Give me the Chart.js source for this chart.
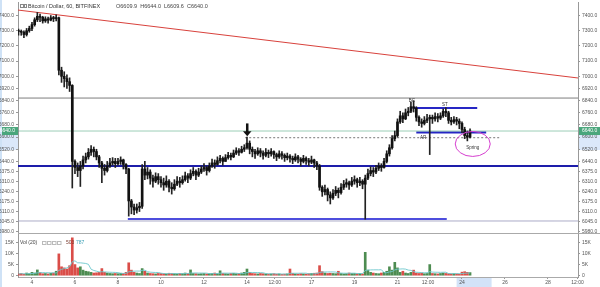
<!DOCTYPE html>
<html>
<head>
<meta charset="utf-8">
<script src="https://cdn.jsdelivr.net/npm/chart.js@4.4.0/dist/chart.umd.min.js"></script>
<style>
    body { margin: 0; background: #fff; }
    canvas { display: block; }
</style>
</head>
<body>
<canvas id="priceChart" width="600" height="234"></canvas>
<canvas id="volumeChart" width="600" height="53"></canvas>
<script>
// 3h candles, time in hours counted from 4 Sep 00:00 (first candle 3 Sep 09:00)
const firstHour = -15;
const stepHours = 3;
const firstOpen = 7300;

const closes = [
    7295, 7290, 7275, 7300, 7315,
    7340, 7372, 7395, 7388, 7365, 7378, 7370, 7385,
    7380, 7385, 7040, 7000, 6985, 6965, 6940, 6440,
    6400, 6380, 6410, 6450, 6470, 6500, 6520, 6505,
    6470, 6430, 6395, 6380, 6410, 6430, 6440, 6425,
    6440, 6450, 6420, 6390, 6180, 6140, 6120, 6135,
    6145, 6390, 6350, 6370, 6330, 6310, 6340, 6320,
    6300, 6285, 6310, 6270, 6260, 6290, 6310, 6300,
    6320, 6345, 6330, 6360, 6375, 6350, 6370, 6390,
    6400, 6380, 6410, 6430, 6420, 6445, 6460, 6440,
    6465, 6480, 6470, 6495, 6510, 6500, 6520, 6530,
    6560, 6520, 6505, 6490, 6510, 6495, 6480, 6500,
    6490, 6505, 6485, 6470, 6490, 6480, 6465, 6475,
    6460, 6450, 6470, 6455, 6440, 6460, 6445, 6435,
    6450, 6430, 6410, 6270, 6240, 6255, 6220, 6200,
    6230, 6250, 6235, 6270, 6290, 6300, 6285, 6310,
    6320, 6300, 6310, 6290, 6330, 6360, 6380, 6370,
    6395, 6410, 6400, 6440, 6490, 6530, 6590, 6610,
    6700, 6740, 6720, 6760, 6770, 6800, 6790, 6730,
    6700, 6690, 6710, 6720, 6730, 6720, 6735, 6725,
    6740, 6770, 6760, 6710, 6700, 6715, 6705, 6690,
    6650, 6610, 6600, 6640
];
const highs = [
    7310, 7305, 7300, 7315, 7330,
    7355, 7385, 7420, 7410, 7395, 7392, 7390, 7400,
    7395, 7405, 7390, 7060, 7030, 7010, 6990, 6945,
    6450, 6430, 6440, 6475, 6495, 6525, 6545, 6535,
    6520, 6480, 6440, 6420, 6440, 6460, 6465, 6460,
    6460, 6470, 6455, 6425, 6395, 6190, 6160, 6160,
    6170, 6420, 6440, 6400, 6385, 6350, 6365, 6360,
    6340, 6330, 6345, 6320, 6300, 6320, 6340, 6335,
    6345, 6370, 6360, 6385, 6400, 6385, 6395, 6410,
    6425, 6410, 6430, 6455, 6450, 6470, 6480, 6470,
    6485, 6500, 6495, 6515, 6530, 6525, 6540, 6550,
    6600, 6575, 6535, 6520, 6530, 6525, 6510, 6525,
    6515, 6525, 6510, 6495, 6510, 6505, 6490, 6495,
    6485, 6475, 6490, 6480, 6465, 6480, 6470, 6460,
    6475, 6455, 6440, 6420, 6280, 6285, 6265, 6240,
    6255, 6275, 6265, 6295, 6315, 6325, 6310, 6335,
    6345, 6330, 6335, 6320, 6350, 6390, 6405, 6400,
    6415, 6430, 6425, 6460, 6510, 6550, 6610, 6640,
    6720, 6770, 6760, 6785, 6795, 6830, 6840, 6800,
    6740, 6720, 6735, 6750, 6745, 6745, 6760, 6755,
    6760, 6785, 6795, 6770, 6730, 6735, 6730, 6720,
    6700, 6665, 6640, 6655
];
const lows = [
    7270, 7270, 7255, 7265, 7290,
    7300, 7330, 7360, 7360, 7350, 7355, 7350, 7365,
    7360, 7365, 7010, 6960, 6930, 6920, 6900, 6265,
    6360, 6340, 6275, 6390, 6430, 6455, 6480, 6470,
    6450, 6400, 6300, 6350, 6370, 6400, 6415, 6400,
    6415, 6420, 6390, 6360, 6080, 6095, 6090, 6100,
    6110, 6130, 6320, 6325, 6290, 6270, 6300, 6290,
    6270, 6250, 6270, 6240, 6225, 6250, 6280, 6270,
    6290, 6310, 6300, 6320, 6345, 6320, 6340, 6360,
    6375, 6350, 6370, 6400, 6395, 6415, 6430, 6415,
    6440, 6455, 6450, 6465, 6485, 6480, 6495, 6505,
    6520, 6490, 6470, 6460, 6480, 6470, 6455, 6470,
    6465, 6475, 6460, 6445, 6460, 6455, 6440, 6450,
    6435, 6425, 6440, 6430, 6410, 6430, 6420, 6410,
    6425, 6400, 6385, 6250, 6210, 6220, 6180, 6160,
    6190, 6215, 6200, 6225, 6255, 6270, 6255, 6275,
    6290, 6270, 6280, 6260, 6060, 6320, 6345, 6340,
    6360, 6380, 6375, 6395, 6430, 6475, 6520, 6575,
    6600, 6690, 6695, 6715, 6740, 6760, 6765, 6705,
    6675, 6665, 6680, 6695, 6485, 6690, 6705, 6700,
    6715, 6730, 6735, 6690, 6680, 6690, 6680, 6655,
    6630, 6590, 6575, 6595
];
// volume in thousands
const volumes = [
    0.8, 1.0, 0.7, 1.2, 0.9,
    1.5, 1.2, 2.6, 1.4, 0.9, 1.0, 0.8, 1.1,
    1.2, 2.0, 9.8, 4.0, 3.5, 3.0, 4.5, 17.0,
    5.0, 3.5, 4.0, 2.5, 2.0, 1.8, 1.5, 1.2,
    1.3, 1.5, 3.2, 1.5, 1.2, 1.0, 0.9, 1.0,
    0.9, 1.1, 1.0, 1.5, 5.8, 2.5, 1.5, 1.2,
    1.0, 3.2, 2.0, 1.2, 1.0, 0.9, 0.8, 1.0,
    1.0, 0.9, 0.8, 1.1, 1.0, 0.9, 0.8, 1.0,
    0.9, 1.2, 1.0, 2.6, 1.0, 0.9, 0.8, 0.9,
    1.0, 0.8, 0.9, 1.0, 1.2, 0.9, 2.2, 1.0,
    0.9, 0.8, 1.0, 1.1, 0.9, 1.0, 1.2, 1.5,
    3.0, 1.5, 1.0, 0.9, 0.8, 1.0, 0.9, 0.8,
    0.7, 0.8, 0.9, 0.7, 0.8, 0.6, 0.7, 0.8,
    3.0, 1.0, 0.8, 0.7, 0.9, 0.8, 0.7, 0.9,
    1.0, 1.1, 1.2, 4.5, 1.8, 1.2, 1.0, 1.1,
    1.0, 0.9, 2.0, 1.0, 0.8, 0.9, 1.2, 1.0,
    1.0, 0.9, 1.0, 0.8, 10.5, 2.5, 1.5, 1.2,
    1.0, 0.9, 1.2, 1.5, 2.0, 4.0, 2.5, 6.0,
    3.5, 1.5, 2.0, 1.2, 1.0, 1.5, 2.5, 1.2,
    1.0, 1.2, 0.9, 1.0, 5.0, 1.0, 0.9, 0.8,
    1.0, 1.2, 1.0, 0.9, 0.8, 0.9, 0.8, 0.7,
    1.6, 1.8, 1.5, 1.4
];

const priceTicks = [7400, 7300, 7200, 7100, 7000, 6920, 6840, 6760, 6680, 6600, 6520, 6440, 6375, 6310, 6240, 6175, 6110, 6045, 5980];
const volumeTicks = [0, 5, 10, 15];
const timeTicks = [0, 48, 96, 144, 192, 240, 271, 312, 360, 408, 442, 480, 528, 576, 609];
const timeLabels = ['4', '6', '8', '10', '12', '14', '12:00', '17', '19', '21', '12:00', '24', '26', '28', '12:00'];

// drawn lines
const trendLine = [{ x: -15.6, y: 7436 }, { x: 609.5, y: 6989 }];
const resistance = 6857;
const support = 6410;
const rangeBottom = 6048;
const currentPrice = 6640;
const springBase = [{ x: 107, y: 6061 }, { x: 463, y: 6061 }];
const bcLine = [{ x: 425, y: 6791 }, { x: 497, y: 6791 }];
const arLine = [{ x: 429, y: 6630 }, { x: 507, y: 6630 }];
const dashLine = [{ x: 238, y: 6596 }, { x: 522, y: 6596 }];

const xMin = -15.6;
const xMax = 609.5;
const priceMin = 5969;
const priceMax = 7489;
const volMin = -0.58;
const volMax = 18.72;

const axisFont = { family: 'Liberation Sans, Arial, sans-serif', size: 5 };
const textColor = '#555';

const hours = closes.map((c, i) => firstHour + i * stepHours);
const opens = closes.map((c, i) => i === 0 ? firstOpen : closes[i - 1]);
const wicks = hours.map((h, i) => ({
    x: h,
    y: [Math.min(lows[i], opens[i], closes[i]), Math.max(highs[i], opens[i], closes[i])]
}));
const bodies = hours.map((h, i) => ({ x: h, y: [opens[i], closes[i]] }));
const volumeBars = hours.map((h, i) => ({ x: h, y: volumes[i] }));
const volumeColors = closes.map((c, i) => c >= opens[i] ? 'rgba(58,128,62,0.9)' : 'rgba(214,58,52,0.9)');
// Vol (20) average, 20 hourly bars ~ 7 bars of 3h
const volumeAvg = hours.map((h, i) => {
    const part = volumes.slice(Math.max(0, i - 6), i + 1);
    return { x: h, y: part.reduce((a, b) => a + b, 0) / part.length };
});

function segment(points, color, width, dash) {
    return {
        type: 'line',
        data: points,
        borderColor: color,
        borderWidth: width,
        borderDash: dash || [],
        pointRadius: 0,
        fill: false,
        yAxisID: 'y',
        order: 3
    };
}
function level(value, color, width) {
    return segment([{ x: xMin, y: value }, { x: xMax, y: value }], color, width);
}

function fixWidth(w) {
    return scale => {
        scale.width = w;
        scale.paddingTop = 0;
        scale.paddingBottom = 0;
    };
}

function yAxis(position, width, min, max, values, format) {
    return {
        type: 'linear',
        position: position,
        min: min,
        max: max,
        afterBuildTicks: s => { s.ticks = values.map(v => ({ value: v })); },
        afterFit: fixWidth(width),
        ticks: { font: axisFont, color: textColor, padding: 2, autoSkip: false, callback: format },
        grid: { drawOnChartArea: false, tickLength: 2, color: '#999' },
        border: { color: '#999' }
    };
}

const priceOverlay = {
    id: 'priceOverlay',
    beforeDraw(chart) {
        const { ctx, chartArea, scales: { y } } = chart;
        ctx.save();
        ctx.fillStyle = '#fff';
        ctx.fillRect(0, 0, chart.width, chart.height);
        ctx.fillStyle = '#cfe2f6';
        ctx.fillRect(0, 0, 2, chart.height);
        const top = y.getPixelForValue(currentPrice);
        const bottom = y.getPixelForValue(6515);
        ctx.fillStyle = '#dbe8fa';
        ctx.fillRect(chartArea.right + 1, top, chart.width - chartArea.right, bottom - top);
        ctx.fillRect(2, top, chartArea.left - 2, bottom - top);
        ctx.restore();
    },
    afterDraw(chart) {
        const { ctx, chartArea, scales: { x, y } } = chart;
        ctx.save();

        // pane divider
        ctx.strokeStyle = '#aaa';
        ctx.lineWidth = 1;
        ctx.beginPath();
        ctx.moveTo(chartArea.left, chartArea.bottom + 0.5);
        ctx.lineTo(chart.width, chartArea.bottom + 0.5);
        ctx.stroke();

        // title
        ctx.strokeStyle = '#888';
        ctx.strokeRect(20.5, 4.5, 3, 3);
        ctx.strokeRect(24.5, 4.5, 2, 3);
        ctx.font = '5.5px Liberation Sans, Arial, sans-serif';
        ctx.textBaseline = 'middle';
        ctx.fillStyle = '#333';
        ctx.fillText('Bitcoin / Dollar, 60, BITFINEX', 28, 6.5);
        ctx.fillStyle = '#444';
        ctx.fillText('O6609.9  H6644.0  L6609.6  C6640.0', 116, 6.5);

        // arrow
        const ax = x.getPixelForValue(240);
        const ay0 = y.getPixelForValue(6690);
        const ay1 = y.getPixelForValue(6605);
        ctx.fillStyle = '#111';
        ctx.fillRect(ax - 1, ay0, 2.5, ay1 - ay0 - 4);
        ctx.beginPath();
        ctx.moveTo(ax - 4, ay1 - 5);
        ctx.lineTo(ax + 4.5, ay1 - 5);
        ctx.lineTo(ax + 0.25, ay1);
        ctx.closePath();
        ctx.fill();

        // Wyckoff labels
        ctx.font = '4.5px Liberation Sans, Arial, sans-serif';
        ctx.textAlign = 'center';
        ctx.fillStyle = '#333';
        ctx.fillText('BC', x.getPixelForValue(424), y.getPixelForValue(6840));
        ctx.fillText('ST', x.getPixelForValue(461), y.getPixelForValue(6811));
        ctx.fillText('AR', x.getPixelForValue(436.5), y.getPixelForValue(6596));
        ctx.fillText('Spring', x.getPixelForValue(492), y.getPixelForValue(6533));

        ctx.strokeStyle = '#d63fd0';
        ctx.lineWidth = 1;
        ctx.beginPath();
        ctx.ellipse(x.getPixelForValue(492), y.getPixelForValue(6555), 17.5, 12.5, 0, 0, Math.PI * 2);
        ctx.stroke();

        // last price tags
        const py = y.getPixelForValue(currentPrice);
        ctx.fillStyle = '#4aa67c';
        ctx.fillRect(chartArea.right + 1, py - 4, chart.width - chartArea.right - 1, 8);
        ctx.fillRect(2, py - 4, chartArea.left - 2, 8);
        ctx.fillStyle = '#fff';
        ctx.font = '5px Liberation Sans, Arial, sans-serif';
        ctx.textAlign = 'left';
        ctx.fillText('6640.0', chartArea.right + 4, py);
        ctx.textAlign = 'right';
        ctx.fillText('6640.0', chartArea.left - 3, py);
        ctx.restore();
    }
};

const volumeOverlay = {
    id: 'volumeOverlay',
    beforeDraw(chart) {
        const { ctx, chartArea, scales: { x } } = chart;
        ctx.save();
        ctx.fillStyle = '#fff';
        ctx.fillRect(0, 0, chart.width, chart.height);
        ctx.fillStyle = '#cfe2f6';
        ctx.fillRect(0, 0, 2, chart.height);
        ctx.fillStyle = '#d3e3f8';
        ctx.fillRect(x.getPixelForValue(474), chartArea.bottom + 1, 35, chart.height - chartArea.bottom);
        ctx.restore();
    },
    afterDraw(chart) {
        const { ctx } = chart;
        ctx.save();
        ctx.font = '5px Liberation Sans, Arial, sans-serif';
        ctx.textBaseline = 'middle';
        ctx.fillStyle = '#444';
        ctx.fillText('Vol (20)', 20, 9);
        ctx.strokeStyle = '#bbb';
        for (let i = 0; i < 4; i++) ctx.strokeRect(42.5 + i * 5, 7.5, 3.5, 3);
        ctx.fillStyle = '#7a3b2e';
        ctx.fillText('503', 66, 9);
        ctx.fillStyle = '#3a9fb5';
        ctx.fillText('787', 76, 9);
        ctx.restore();
    }
};

Chart.defaults.font.family = 'Liberation Sans, Arial, sans-serif';

new Chart(document.getElementById('priceChart'), {
    type: 'bar',
    data: {
        datasets: [
            segment(trendLine, '#d8423c', 1),
            level(resistance, '#7d7d7d', 1),
            level(currentPrice, 'rgba(74,166,124,0.55)', 1),
            level(rangeBottom, 'rgba(150,150,185,0.8)', 1),
            level(support, '#1d1daa', 2),
            segment(springBase, '#4d4ddd', 2),
            segment(bcLine, '#2626c4', 2),
            segment(arLine, '#2626c4', 2),
            segment(dashLine, '#777', 1, [2, 2]),
            {
                data: wicks,
                backgroundColor: '#222',
                barThickness: 1,
                grouped: false,
                yAxisID: 'y',
                order: 2
            },
            {
                data: bodies,
                backgroundColor: '#111',
                barThickness: 2,
                minBarLength: 1,
                grouped: false,
                yAxisID: 'y',
                order: 1
            }
        ]
    },
    options: {
        responsive: false,
        animation: false,
        events: [],
        devicePixelRatio: 1,
        layout: { padding: { top: 2, bottom: 1, left: 0, right: 0 } },
        plugins: { legend: { display: false }, tooltip: { enabled: false } },
        scales: {
            x: { type: 'linear', min: xMin, max: xMax, display: false, offset: false, grid: { offset: false } },
            y: yAxis('right', 22, priceMin, priceMax, priceTicks, v => v.toFixed(1)),
            yLeft: yAxis('left', 18, priceMin, priceMax, priceTicks, v => v.toFixed(1))
        }
    },
    plugins: [priceOverlay]
});

const volFormat = v => v === 0 ? '0' : v + 'K';

new Chart(document.getElementById('volumeChart'), {
    type: 'bar',
    data: {
        datasets: [
            {
                type: 'line',
                data: volumeAvg,
                borderColor: 'rgba(110,200,205,0.9)',
                borderWidth: 1,
                pointRadius: 0,
                yAxisID: 'y',
                order: 1
            },
            {
                data: volumeBars,
                backgroundColor: volumeColors,
                barThickness: 2,
                grouped: false,
                yAxisID: 'y',
                order: 2
            }
        ]
    },
    options: {
        responsive: false,
        animation: false,
        events: [],
        devicePixelRatio: 1,
        layout: { padding: 0 },
        plugins: { legend: { display: false }, tooltip: { enabled: false } },
        scales: {
            x: {
                type: 'linear',
                min: xMin,
                max: xMax,
                offset: false,
                afterBuildTicks: s => { s.ticks = timeTicks.map(v => ({ value: v })); },
                afterFit: s => { s.height = 10; s.paddingLeft = 0; s.paddingRight = 0; },
                ticks: {
                    font: axisFont,
                    color: textColor,
                    padding: 1,
                    maxRotation: 0,
                    autoSkip: false,
                    callback: v => timeLabels[timeTicks.indexOf(v)]
                },
                grid: { drawOnChartArea: false, tickLength: 2, color: '#999', offset: false },
                border: { color: '#aaa' }
            },
            y: yAxis('right', 22, volMin, volMax, volumeTicks, volFormat),
            yLeft: yAxis('left', 18, volMin, volMax, volumeTicks, volFormat)
        }
    },
    plugins: [volumeOverlay]
});
</script>
</body>
</html>
